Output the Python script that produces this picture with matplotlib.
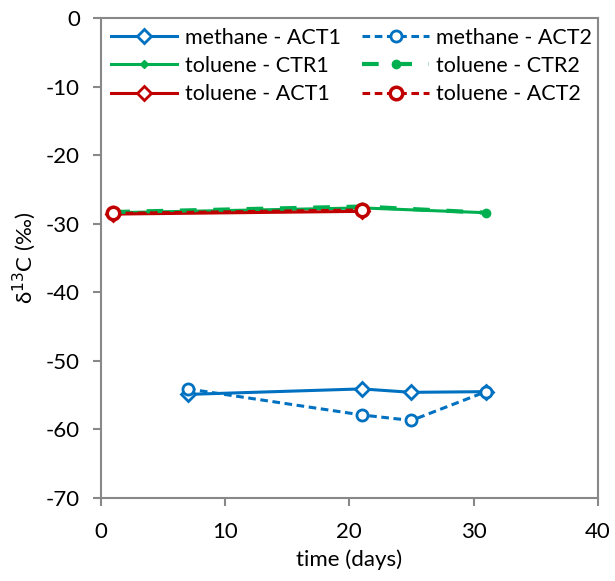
import matplotlib.pyplot as plt

plt.rcParams['font.family'] = ['Lato', 'DejaVu Sans']
plt.rcParams['axes.unicode_minus'] = False

# data
t_meth1 = [7, 21, 25, 31]
meth_act1 = [-54.9, -54.1, -54.6, -54.5]
t_meth2 = [7, 21, 25, 31]
meth_act2 = [-54.1, -57.9, -58.7, -54.5]
t_ctr = [1, 21, 31]
tol_ctr1 = [-28.4, -27.7, -28.4]
tol_ctr2 = [-28.3, -27.5, -28.4]
t_act = [1, 21]
tol_act1 = [-28.6, -28.2]
tol_act2 = [-28.5, -28.0]

blue = '#0070c0'
green = '#00b050'
red = '#c00000'

fig = plt.figure(figsize=(6.15, 5.81), dpi=100)
ax = fig.add_axes([0.164, 0.143, 0.808, 0.826])

ax.plot(t_meth1, meth_act1, color=blue, lw=2.2, marker='D', ms=7, mfc='white', mew=2, label='methane - ACT1')
ax.plot(t_ctr, tol_ctr1, color=green, lw=2.2, marker='D', ms=4, label='toluene - CTR1')
ax.plot(t_act, tol_act1, color=red, lw=2.2, marker='D', ms=7, mfc='white', mew=2, label='toluene - ACT1')
ax.plot(t_meth2, meth_act2, color=blue, lw=2.2, ls=(0, (2.5, 1.5)), marker='o', ms=8, mfc='white', mew=2, label='methane - ACT2')
ax.plot(t_ctr, tol_ctr2, color=green, lw=3, ls=(0, (4, 4)), marker='o', ms=6, label='toluene - CTR2')
ax.plot(t_act, tol_act2, color=red, lw=2.2, ls=(0, (2.5, 1.5)), marker='o', ms=9, mfc='white', mew=2.5, label='toluene - ACT2')

ax.set_xlim(0, 40)
ax.set_ylim(-70, 0)
ax.set_xticks([0, 10, 20, 30, 40])
ax.set_yticks(range(-70, 1, 10))
ax.set_xlabel('time (days)', fontsize=16, labelpad=6)
ax.set_ylabel('δ$^{13}$C (‰)', fontsize=16, labelpad=6)
ax.tick_params(labelsize=16, color='#888888', length=6, width=1.5, pad=9)
ax.tick_params(axis='x', pad=11)
for s in ax.spines.values():
    s.set_color('#888888')
    s.set_linewidth(1.5)

leg = ax.legend(ncol=2, loc='upper left', bbox_to_anchor=(0.0, 1.0), fontsize=15.5,
                frameon=False, handlelength=3.1, columnspacing=1.0,
                borderpad=0.35, labelspacing=0.38, handletextpad=0.35, borderaxespad=0.1)

plt.savefig('out.png')
